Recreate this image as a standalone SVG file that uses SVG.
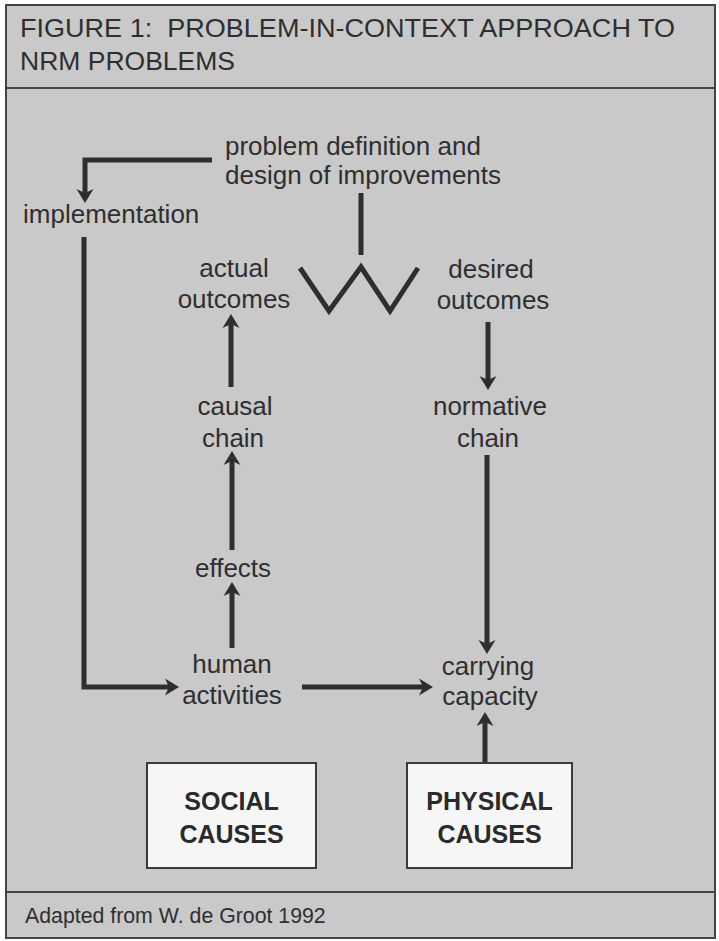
<svg xmlns="http://www.w3.org/2000/svg" width="719" height="941" viewBox="0 0 719 941">
<style>
  .t { font-family: "Liberation Sans", Arial, Helvetica, sans-serif; font-size: 26px; fill: #2f2f2f; }
  .c { text-anchor: middle; }
  .title { font-family: "Liberation Sans", Arial, Helvetica, sans-serif; font-size: 26.5px; fill: #2f2f2f; }
  .b { font-family: "Liberation Sans", Arial, Helvetica, sans-serif; font-size: 25px; font-weight: bold; fill: #2a2a2a; text-anchor: middle; }
  .foot { font-family: "Liberation Sans", Arial, Helvetica, sans-serif; font-size: 21.3px; fill: #2f2f2f; }
  .ln { fill: none; stroke: #2e2e2e; stroke-width: 5; }
  .ar { marker-end: url(#ah); }
  .box { fill: #f6f6f6; stroke: #3a3a3a; stroke-width: 2; }
</style>
<defs>
  <marker id="ah" markerUnits="userSpaceOnUse" markerWidth="20" markerHeight="20" viewBox="-8 -10 20 20" refX="0" refY="0" orient="auto">
    <path d="M9,0 L-5,-8.5 L-1,0 L-5,8.5 Z" fill="#2e2e2e"/>
  </marker>
</defs>
<rect x="0" y="0" width="719" height="941" fill="#ffffff"/>
<rect x="6" y="5" width="709" height="933" fill="#c9c9c9" stroke="#444" stroke-width="2"/>
<line x1="6" y1="88" x2="715" y2="88" stroke="#444" stroke-width="2"/>
<line x1="6" y1="892" x2="715" y2="892" stroke="#444" stroke-width="2"/>

<g id="title">
  <text class="title" x="20" y="37" xml:space="preserve" textLength="655" lengthAdjust="spacingAndGlyphs">FIGURE 1:  PROBLEM-IN-CONTEXT APPROACH TO</text>
  <text class="title" x="20" y="70">NRM PROBLEMS</text>
</g>

<g id="connectors">
  <path class="ln ar" d="M212,160 H85 V194"/>
  <path class="ln ar" d="M84,237 V687 H170"/>
  <path class="ln" d="M361,193 V255"/>
  <polyline class="ln" points="300,268 329,311 361,267 390,311 418,268" stroke-linejoin="miter"/>
  <path class="ln ar" d="M232,648 V591"/>
  <path class="ln ar" d="M232,550 V460"/>
  <path class="ln ar" d="M231,387 V323"/>
  <path class="ln ar" d="M488,322 V381"/>
  <path class="ln ar" d="M487,455 V645"/>
  <path class="ln ar" d="M302,687 H424"/>
  <path class="ln ar" d="M485,763 V721"/>
</g>

<g id="problem-definition">
  <text class="t" x="225" y="155">problem definition and</text>
  <text class="t" x="225" y="184">design of improvements</text>
</g>
<g id="implementation">
  <text class="t" x="23" y="223">implementation</text>
</g>
<g id="actual-outcomes">
  <text class="t c" x="234" y="277">actual</text>
  <text class="t c" x="234" y="308">outcomes</text>
</g>
<g id="desired-outcomes">
  <text class="t c" x="491" y="278">desired</text>
  <text class="t c" x="493" y="309">outcomes</text>
</g>
<g id="causal-chain">
  <text class="t c" x="235" y="415">causal</text>
  <text class="t c" x="233" y="447">chain</text>
</g>
<g id="normative-chain">
  <text class="t c" x="490" y="415">normative</text>
  <text class="t c" x="488" y="447">chain</text>
</g>
<g id="effects">
  <text class="t c" x="233" y="577">effects</text>
</g>
<g id="human-activities">
  <text class="t c" x="232" y="673">human</text>
  <text class="t c" x="232" y="704">activities</text>
</g>
<g id="carrying-capacity">
  <text class="t c" x="488" y="675">carrying</text>
  <text class="t c" x="490" y="705">capacity</text>
</g>
<g id="social-causes">
  <rect class="box" x="147" y="763" width="169" height="105"/>
  <text class="b" x="231.5" y="810">SOCIAL</text>
  <text class="b" x="231.5" y="843">CAUSES</text>
</g>
<g id="physical-causes">
  <rect class="box" x="407" y="763" width="165" height="105"/>
  <text class="b" x="489.5" y="810">PHYSICAL</text>
  <text class="b" x="489.5" y="843">CAUSES</text>
</g>
<g id="footer">
  <text class="foot" x="25" y="923">Adapted from W. de Groot 1992</text>
</g>
</svg>
